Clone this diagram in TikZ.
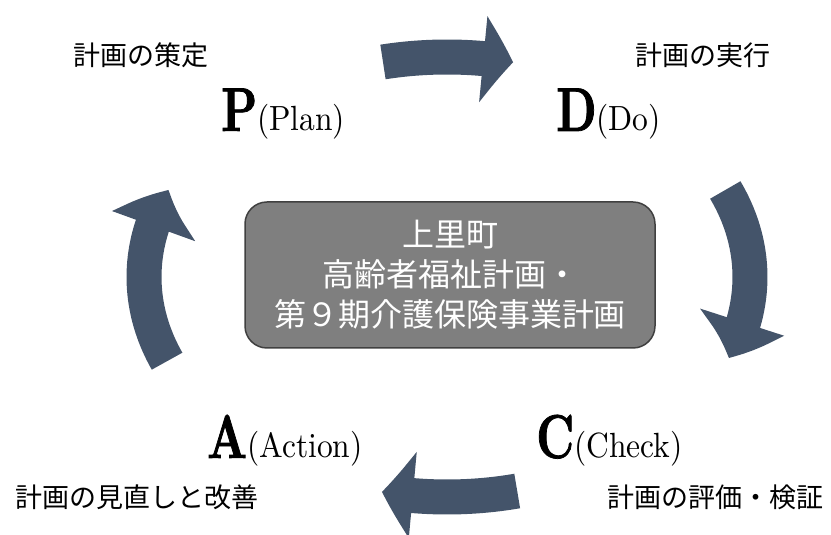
\documentclass[tikz,border=0pt]{standalone}
\usepackage{fontspec}
\newfontfamily\jpfont{Noto Sans CJK JP}
\newfontfamily\stagebf{lmroman10-bold}[Extension=.otf, FakeStretch=0.74, FakeBold=1.2]
\newfontfamily\stagerm{lmroman10-regular}[Extension=.otf, FakeStretch=0.9]
\usetikzlibrary{arrows.meta, bending}
\definecolor{arrowcol}{RGB}{68,84,106}
\definecolor{boxfill}{RGB}{127,127,127}
\definecolor{boxline}{RGB}{64,64,64}
\tikzset{
  cycarrow/.style={draw=arrowcol, line width=35pt,
                   -{Triangle[width=85pt, length=#1, bend]}},
  stage/.style={anchor=base west, inner sep=0pt},
  stagedesc/.style={font=\jpfont\fontsize{27}{27}\selectfont, inner sep=0pt},
}
\newcommand{\stagelbl}[2]{%
  {\stagebf\fontsize{62}{62}\selectfont #1}%
  {\stagerm\fontsize{35}{35}\selectfont(#2)}}

\begin{document}
\begin{tikzpicture}[x=1pt,y=1pt]
\useasboundingbox (0,0) rectangle (831,535);

% ── Centre of the cycle ───────────────────────────────────────────────────────
\coordinate (cyc) at (447,258);

\node[draw=boxline, line width=1.5pt, fill=boxfill, rounded corners=22pt,
      minimum width=410pt, minimum height=146pt, text=white, align=center,
      font=\jpfont\fontsize{32}{40}\selectfont] (plan9) at (450,260)
     {上里町\\高齢者福祉計画・\\第９期介護保険事業計画};

% ── Four curved block arrows (P -> D -> C -> A) ──────────────────────────────
\foreach \from/\to/\len in {102.2/77.4/30, 23.3/-21.6/39,
                            -76.6/-102.4/31, 202.5/156.7/40}
{
  \draw[cycarrow=\len pt] (cyc) ++(\from:303 and 220)
       arc[start angle=\from, end angle=\to, x radius=303, y radius=220];
}

% ── Stage letters ─────────────────────────────────────────────────────────────
\node[stage] (plan)  at (221,404) {\stagelbl{P}{Plan}};
\node[stage] (do)    at (556,404) {\stagelbl{D}{Do}};
\node[stage] (check) at (536,77)  {\stagelbl{C}{Check}};
\node[stage] (act)   at (207,77)  {\stagelbl{A}{Action}};

% Stage descriptions
\node[stagedesc] (plandesc)  at (141,480)   {計画の策定};
\node[stagedesc] (dodesc)    at (703,480)   {計画の実行};
\node[stagedesc] (checkdesc) at (715.5,38)  {計画の評価・検証};
\node[stagedesc] (actdesc)   at (137.5,38)  {計画の見直しと改善};

\end{tikzpicture}
\end{document}
